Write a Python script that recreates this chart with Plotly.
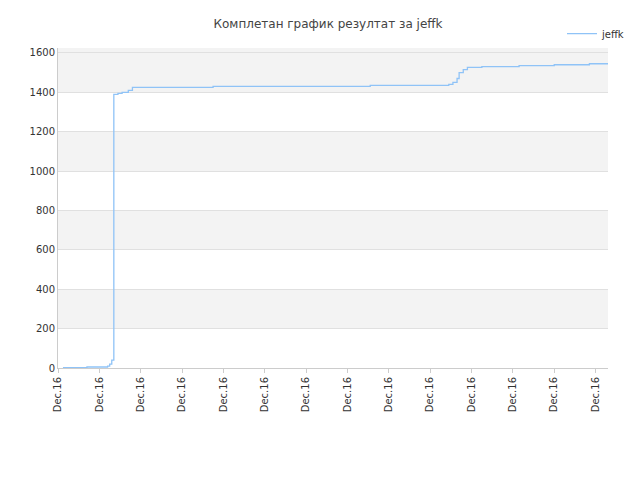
import plotly.graph_objects as go

x_pos = [0.12, 0.7, 1.2, 1.25, 1.3, 1.35, 1.45, 1.55, 1.7, 1.8, 3.75, 7.55, 9.45, 9.55, 9.65, 9.7, 9.8, 9.9, 10.25, 11.15, 12.0, 12.85, 13.3]
y_val = [2, 5, 10, 20, 40, 1390, 1395, 1400, 1410, 1425, 1430, 1435, 1440, 1450, 1470, 1500, 1515, 1527, 1530, 1535, 1540, 1545, 1545]
tick_vals = list(range(14))
tick_text = ["Dec.16"] * 14

fig = go.Figure(go.Scatter(x=x_pos, y=y_val, mode="lines", line=dict(color="#8fc3f7", width=1.3, shape="hv"), name="jeffk"))
shapes = []
for lo in [200, 600, 1000, 1400]:
    shapes.append(dict(type="rect", xref="paper", x0=0, x1=1, yref="y", y0=lo, y1=lo+200, fillcolor="#f3f3f3", line_width=0, layer="below"))
shapes.append(dict(type="rect", xref="paper", x0=0, x1=1, yref="y", y0=1600, y1=1625, fillcolor="#f3f3f3", line_width=0, layer="below"))
fig.update_layout(
    width=640, height=480, paper_bgcolor="white", plot_bgcolor="white",
    margin=dict(l=50, r=40, t=40, b=120, autoexpand=False), shapes=shapes,
    title=dict(text="Комплетан график резултат за jeffk", x=0.5, xanchor="center", y=0.975, font=dict(family="DejaVu Sans", size=12, color="#444")),
    font=dict(family="DejaVu Sans", size=10, color="#333"),
    showlegend=True, legend=dict(x=1.04, y=1.09, xanchor="right", yanchor="top", font=dict(size=10), itemwidth=30),
    xaxis=dict(range=[0, 13.3], tickvals=tick_vals, ticktext=tick_text, tickangle=-90, showgrid=False, showline=True, linecolor="#ccc", ticks="outside", ticklen=4, tickcolor="#ccc", zeroline=False, automargin=False),
    yaxis=dict(range=[0, 1625], dtick=200, gridcolor="#e0e0e0", showline=True, linecolor="#ccc", zeroline=False, ticks="", automargin=False),
)
fig.write_html("out.html")
